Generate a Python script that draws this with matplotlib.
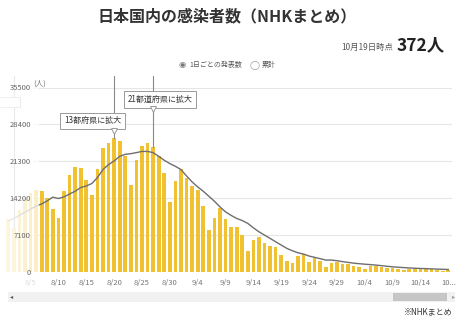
import numpy as np
import matplotlib
matplotlib.use('Agg')
import matplotlib.pyplot as plt
from matplotlib.patches import Rectangle

plt.rcParams['font.family'] = ['Noto Sans CJK JP', 'DejaVu Sans']

# daily reported cases, 8/1 .. 10/19
cases = [10169, 8392, 12016, 14207, 15263, 15753,
         15600, 14330, 12030, 10420, 15540, 18740, 20210, 20020, 17650, 14720,
         19770, 23850, 24890, 25770, 25200, 22260, 16700, 21500, 24180, 24820,
         24050, 22260, 19130, 13500, 17530,
         19900, 18100, 16500, 15740, 12730, 8060, 10430, 12220, 10170, 8600,
         8600, 7100, 4100, 6140, 6650, 5630, 4990, 4860, 3200, 2110,
         1660, 3070, 3390, 1980, 2620, 2110, 1020, 1660, 1980, 1580,
         1450, 1230, 1000, 600, 1140, 1130, 900, 860, 800, 640,
         370, 610, 730, 620, 610, 500, 430, 230, 372]

# 7-day average line
avg = [9800, 10300, 10900, 11500, 12100, 12700,
       13100, 13700, 14400, 14140, 14450, 15000, 15540, 16250, 16560, 17020,
       18170, 19710, 20670, 21360, 22260, 22640, 22770, 22970, 23200, 23200,
       22970, 22260, 21500, 20860, 20340,
       19710, 18480, 17330, 16370, 15540, 14580, 13620, 12530, 11570, 10900,
       10300, 9900, 9350, 8500, 7740, 7100, 6470, 5820, 5180, 4550,
       4090, 3700, 3450, 3070, 2820, 2560, 2300, 2300, 2170, 2000,
       1850, 1700, 1600, 1500, 1420, 1330, 1220, 1100, 1000, 920,
       850, 780, 720, 680, 640, 600, 560, 520, 480]

yticks = [0, 7100, 14200, 21300, 28400, 35500]
xtick_labels = ['8/5', '8/10', '8/15', '8/20', '8/25', '8/30', '9/4', '9/9',
                '9/14', '9/19', '9/24', '9/29', '10/4', '10/9', '10/14', '10...']
xtick_pos = [4 + 5 * k for k in range(len(xtick_labels))]

# (day index, label, box x, box y)
notes = [(19, '13都府県に拡大', 15.1, 29070),
         (26, '21都道府県に拡大', 27.2, 33200)]
early_note = 1  # 8/2, box mostly scrolled off to the left

x = np.arange(len(cases))

W, H = 465, 325
fig = plt.figure(figsize=(W / 100, H / 100), dpi=100)
bottom, top = 1 - 272 / H, 1 - 87.5 / H
ax = fig.add_axes([0, bottom, 452 / W, top - bottom])
ax.patch.set_visible(False)

for v in yticks:
    ax.axhline(v, xmin=33 / 452, xmax=1, color='#e6e6e6', lw=0.8, zorder=0.5)

ax.bar(x, cases, width=0.66, color='#F0C232', zorder=2)
ax.plot(x, avg, color='#6e6e6e', lw=1.0, zorder=3)

ax.plot([early_note, early_note], [cases[early_note], 37800], color='#8a8a8a',
        lw=0.8, zorder=4, clip_on=False)
ax.add_patch(Rectangle((-8.7, 31660), 10.8, 1920, fc='white', ec='#9a9a9a',
                       lw=0.7, zorder=4.5, clip_on=False))

for d, txt, bx, by in notes:
    ax.plot([d, d], [cases[d], 37800], color='#8a8a8a', lw=0.8, zorder=7,
            clip_on=False)
    ax.text(bx, by, txt, ha='center', va='center',
            fontsize=5.8, color='#333333', zorder=7.5, clip_on=False,
            bbox=dict(boxstyle='square,pad=0.45', fc='white', ec='#9a9a9a', lw=0.7))
    ax.plot(d, by - 1850, marker='v', ms=4.5, mfc='white', mec='#9a9a9a',
            mew=0.7, zorder=7.6, clip_on=False)

# fade on the scrolled-off left edge
fade = np.ones((1, 60, 4))
fade[0, :, 3] = np.linspace(0.9, 0.72, 60)
ax.imshow(fade, extent=[-1.49, 5.4, -300, 38600], aspect='auto',
          zorder=6, clip_on=False, interpolation='bilinear')

ax.set_xlim(-1.49, 79.66)
ax.set_ylim(0, 35500)
ax.set_yticks(yticks)
ax.tick_params(axis='y', length=0, labelleft=False)
ax.set_xticks(xtick_pos, xtick_labels)
ax.tick_params(axis='x', length=0, pad=5, labelsize=5.5, labelcolor='#777777')
ax.get_xticklabels()[0].set_color('#dddddd')
for s in ax.spines.values():
    s.set_visible(False)

# y tick labels sit above the fade
axl = fig.add_axes([31 / W, bottom, 0.001, top - bottom], sharey=ax)
axl.set_zorder(ax.get_zorder() + 1)
axl.patch.set_visible(False)
for s in axl.spines.values():
    s.set_visible(False)
axl.set_xticks([])
axl.tick_params(axis='y', length=0, pad=0, labelsize=5.5, labelcolor='#666666')
axl.set_yticks(yticks, [str(v) for v in yticks])
axl.set_ylim(0, 35500)

fig.text(33 / W, 1 - 84 / H, '(人)', fontsize=5.5, color='#777777', va='center')

fig.text(227 / W, 1 - 16 / H, '日本国内の感染者数（NHKまとめ）', fontsize=11.5,
         fontweight='bold', ha='center', va='center', color='#333333')
fig.text(393 / W, 1 - 47 / H, '10月19日時点', fontsize=6, color='#555555',
         ha='right', va='center')
fig.text(397 / W, 1 - 45 / H, '372人', fontsize=12.5, fontweight='bold',
         color='#222222', ha='left', va='center')

fig.text(182 / W, 1 - 65 / H, '◉', fontsize=6, color='#777777', ha='center',
         va='center', family='DejaVu Sans')
fig.text(189 / W, 1 - 65 / H, '1日ごとの発表数', fontsize=5.0, color='#555555',
         va='center')
fig.text(255 / W, 1 - 65 / H, '◯', fontsize=6.5, color='#999999', ha='center',
         va='center', family='DejaVu Sans')
fig.text(262 / W, 1 - 65 / H, '累計', fontsize=5.0, color='#555555', va='center')

# scrollbar
fig.patches.append(Rectangle((8 / W, 1 - 302 / H), 447 / W, 10 / H,
                             transform=fig.transFigure, fc='#f1f1f1', ec='none'))
fig.patches.append(Rectangle((393 / W, 1 - 301 / H), 54 / W, 8 / H,
                             transform=fig.transFigure, fc='#c6c6c6', ec='none'))
fig.text(12 / W, 1 - 297 / H, '◂', fontsize=4.5, color='#555555', ha='center',
         va='center', family='DejaVu Sans')
fig.text(454 / W, 1 - 297 / H, '▸', fontsize=4.5, color='#999999', ha='center',
         va='center', family='DejaVu Sans')

fig.text(452 / W, 1 - 312 / H, '※NHKまとめ', fontsize=5.8, color='#333333',
         ha='right', va='center')

fig.savefig('out.png', dpi=100)
